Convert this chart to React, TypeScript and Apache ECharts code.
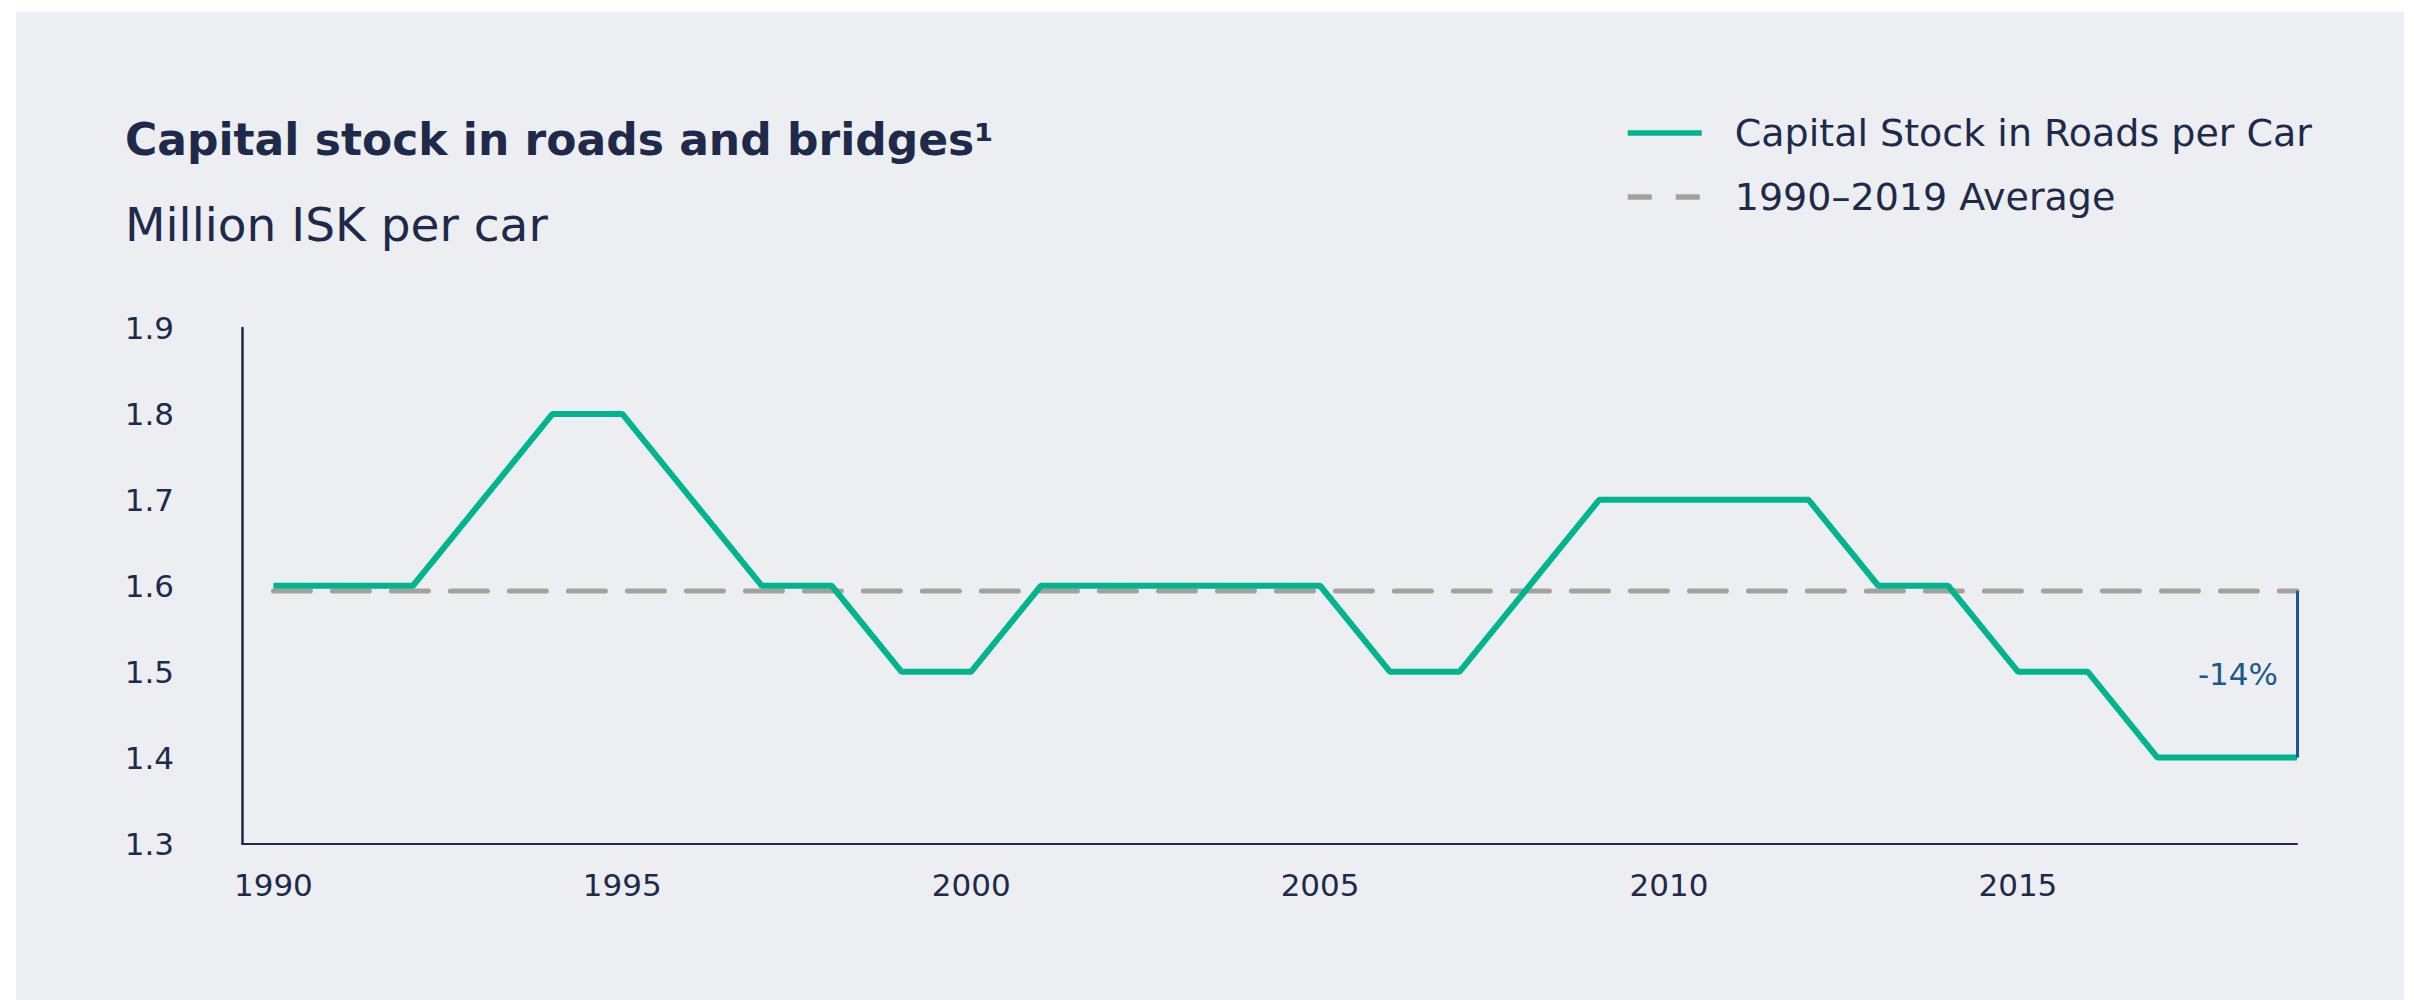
import React, { useEffect, useRef } from 'react';
import * as echarts from 'echarts';

const years = [1990, 1991, 1992, 1993, 1994, 1995, 1996, 1997, 1998, 1999, 2000, 2001, 2002, 2003, 2004, 2005, 2006, 2007, 2008, 2009, 2010, 2011, 2012, 2013, 2014, 2015, 2016, 2017, 2018, 2019];
const capitalStock = [1.6, 1.6, 1.6, 1.7, 1.8, 1.8, 1.7, 1.6, 1.6, 1.5, 1.5, 1.6, 1.6, 1.6, 1.6, 1.6, 1.5, 1.5, 1.6, 1.7, 1.7, 1.7, 1.7, 1.6, 1.6, 1.5, 1.5, 1.4, 1.4, 1.4];
const averageValue = 1.594;
const xTickYears = [1990, 1995, 2000, 2005, 2010, 2015];
const yMin = 1.3;
const yMax = 1.9;
const yStep = 0.1;
const changeLabel = '-14%';
const seriesNames = ['Capital Stock in Roads per Car', '1990\u20132019 Average'];
const titleText = 'Capital stock in roads and bridges\u00b9';
const subtitleText = 'Million ISK per car';

const FONT = "'DejaVu Sans', sans-serif";
const NAVY = '#1F2A4B';
const GREEN = '#00B58D';
const GREY = '#A3A19B';
const BLUE = '#1A5A8C';
const PANEL = '#ECEEF2';

export default function App() {
  const ref = useRef<HTMLDivElement>(null);
  useEffect(() => {
    const chart = echarts.init(ref.current as HTMLDivElement, null, { renderer: 'svg' });
    const lastYear = years[years.length - 1];
    const lastValue = capitalStock[capitalStock.length - 1];
    chart.setOption({
      animation: false,
      backgroundColor: '#ffffff',
      textStyle: { fontFamily: FONT },
      graphic: [
        {
          type: 'rect',
          z: -100,
          silent: true,
          shape: { x: 16, y: 12, width: 2388, height: 988 },
          style: { fill: PANEL },
        },
        {
          type: 'text',
          x: 125,
          y: 139,
          style: {
            text: titleText,
            fill: NAVY,
            font: `bold 44px ${FONT}`,
            align: 'left',
            verticalAlign: 'middle',
          },
        },
        {
          type: 'text',
          x: 125,
          y: 224,
          style: {
            text: subtitleText,
            fill: NAVY,
            font: `normal 47px ${FONT}`,
            align: 'left',
            verticalAlign: 'middle',
          },
        },
      ],
      legend: {
        orient: 'vertical',
        left: 1625,
        top: 113,
        itemWidth: 74,
        itemHeight: 40,
        itemGap: 24,
        padding: 0,
        selectedMode: false,
        itemStyle: { opacity: 0 },
        textStyle: {
          fontFamily: FONT,
          fontSize: 38,
          color: NAVY,
          lineHeight: 40,
          padding: [0, 0, 0, 28],
        },
        data: [
          { name: seriesNames[0], itemStyle: { opacity: 0 }, lineStyle: { width: 5.5, color: GREEN } },
          { name: seriesNames[1], itemStyle: { opacity: 0 }, lineStyle: { width: 5.5, color: GREY, type: [24, 24], cap: 'butt' } },
        ],
      },
      grid: { left: 242, right: 117, top: 328, bottom: 156.5, containLabel: false },
      xAxis: {
        type: 'value',
        min: 1989.55,
        max: 2019,
        axisLine: { show: true, lineStyle: { color: NAVY, width: 2 } },
        axisTick: { show: false },
        splitLine: { show: false },
        axisLabel: {
          customValues: xTickYears,
          formatter: (v: number) => String(Math.round(v)),
          fontSize: 31,
          color: NAVY,
          margin: 26,
          fontFamily: FONT,
        },
      },
      yAxis: {
        type: 'value',
        min: yMin,
        max: yMax,
        interval: yStep,
        axisLine: { show: true, lineStyle: { color: NAVY, width: 2.5 } },
        axisTick: { show: false },
        splitLine: { show: false },
        axisLabel: {
          formatter: (v: number) => v.toFixed(1),
          fontSize: 31,
          color: NAVY,
          margin: 68,
          fontFamily: FONT,
        },
      },
      series: [
        {
          name: seriesNames[1],
          type: 'line',
          symbol: 'none',
          z: 2,
          data: [
            [years[0], averageValue],
            [lastYear, averageValue],
          ],
          lineStyle: { color: GREY, width: 5, type: [37, 22], cap: 'round' },
          itemStyle: { color: GREY },
          markLine: {
            silent: true,
            symbol: ['none', 'none'],
            label: { show: false },
            lineStyle: { color: BLUE, width: 3, type: 'solid' },
            emphasis: { disabled: true },
            data: [[{ coord: [lastYear, averageValue] }, { coord: [lastYear, lastValue] }]],
          },
          markPoint: {
            silent: true,
            symbol: 'circle',
            symbolSize: 0,
            label: {
              show: true,
              position: 'left',
              distance: 19,
              formatter: changeLabel,
              fontSize: 31,
              color: BLUE,
              fontFamily: FONT,
            },
            data: [{ coord: [lastYear, (averageValue + lastValue) / 2] }],
          },
        },
        {
          name: seriesNames[0],
          type: 'line',
          symbol: 'none',
          z: 3,
          data: years.map((y, i) => [y, capitalStock[i]]),
          lineStyle: { color: GREEN, width: 6 },
          itemStyle: { color: GREEN },
        },
      ],
    });
    return () => chart.dispose();
  }, []);
  return <div ref={ref} style={{ position: 'fixed', left: 0, top: 0, width: 2414, height: 1000 }} />;
}
